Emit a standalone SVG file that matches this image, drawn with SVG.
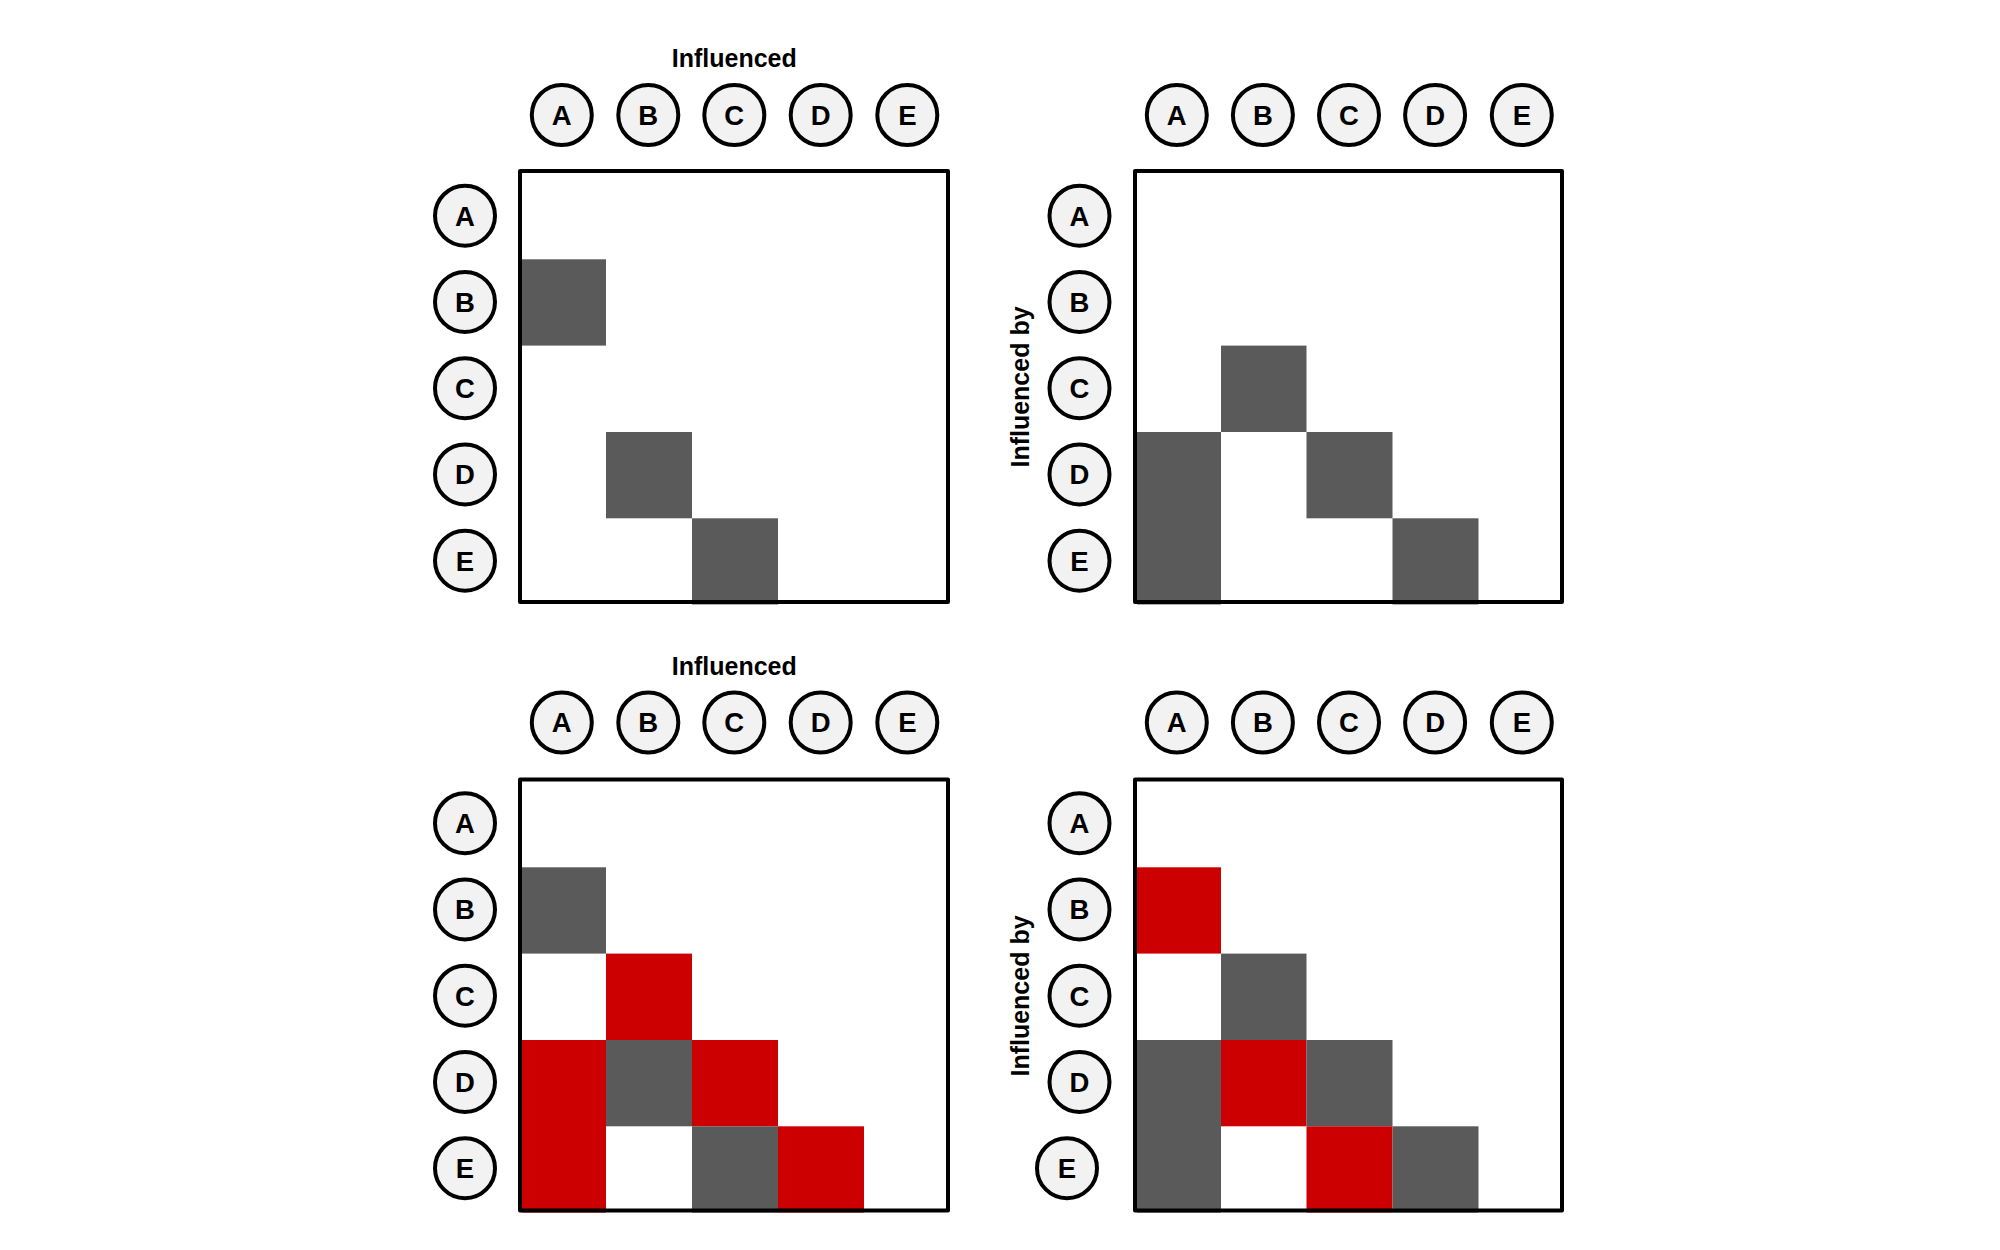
<svg xmlns="http://www.w3.org/2000/svg" width="2000" height="1250" viewBox="0 0 2000 1250">
<style>
.bg{fill:#ffffff}
.node ellipse{fill:#f2f2f2;stroke:#000;stroke-width:4}
.node text{font-family:"Liberation Sans",Arial,sans-serif;font-weight:bold;font-size:27.5px;text-anchor:middle;fill:#000}
.g{fill:#5a5a5a}
.r{fill:#cc0000}
.frame{fill:none;stroke:#000;stroke-width:4;stroke-linejoin:round}
.lbl{font-family:"Liberation Sans",Arial,sans-serif;font-weight:bold;font-size:25px;text-anchor:middle;fill:#000}
</style>
<rect class="bg" x="0" y="0" width="2000" height="1250"/>

<!-- ===== Top-left panel ===== -->
<g id="panel-tl">
  <text class="lbl" x="734.3" y="67">Influenced</text>
  <g id="tl-cells">
    <rect class="g" x="522" y="259.3" width="84" height="86.3"/>
    <rect class="g" x="606" y="432" width="86" height="86.3"/>
    <rect class="g" x="692" y="518.3" width="86" height="86.2"/>
  </g>
  <rect class="frame" x="520" y="171" width="428" height="431"/>
</g>
<g id="tl-col-A" class="node"><ellipse cx="561.8" cy="115" rx="30" ry="30"/><text x="561.8" y="124.9">A</text></g>
<g id="tl-col-B" class="node"><ellipse cx="648.3" cy="115" rx="30" ry="30"/><text x="648.3" y="124.9">B</text></g>
<g id="tl-col-C" class="node"><ellipse cx="734.3" cy="115" rx="30" ry="30"/><text x="734.3" y="124.9">C</text></g>
<g id="tl-col-D" class="node"><ellipse cx="820.7" cy="115" rx="30" ry="30"/><text x="820.7" y="124.9">D</text></g>
<g id="tl-col-E" class="node"><ellipse cx="907.3" cy="115" rx="30" ry="30"/><text x="907.3" y="124.9">E</text></g>
<g id="tl-row-A" class="node"><ellipse cx="465" cy="215.7" rx="30" ry="30"/><text x="465" y="225.6">A</text></g>
<g id="tl-row-B" class="node"><ellipse cx="465" cy="301.9" rx="30" ry="30"/><text x="465" y="311.8">B</text></g>
<g id="tl-row-C" class="node"><ellipse cx="465" cy="388.2" rx="30" ry="30"/><text x="465" y="398.1">C</text></g>
<g id="tl-row-D" class="node"><ellipse cx="465" cy="474.4" rx="30" ry="30"/><text x="465" y="484.3">D</text></g>
<g id="tl-row-E" class="node"><ellipse cx="465" cy="560.7" rx="30" ry="30"/><text x="465" y="570.6">E</text></g>

<!-- ===== Top-right panel ===== -->
<g id="panel-tr">
  <text class="lbl" transform="translate(1028.7,387) rotate(-90)" x="0" y="0">Influenced by</text>
  <g id="tr-cells">
    <rect class="g" x="1221" y="345.6" width="85.5" height="86.4"/>
    <rect class="g" x="1137" y="432" width="84" height="172.5"/>
    <rect class="g" x="1306.5" y="432" width="86" height="86.3"/>
    <rect class="g" x="1392.5" y="518.3" width="86" height="86.2"/>
  </g>
  <rect class="frame" x="1135" y="171" width="427" height="431"/>
</g>
<g id="tr-col-A" class="node"><ellipse cx="1176.8" cy="115" rx="30" ry="30"/><text x="1176.8" y="124.9">A</text></g>
<g id="tr-col-B" class="node"><ellipse cx="1262.9" cy="115" rx="30" ry="30"/><text x="1262.9" y="124.9">B</text></g>
<g id="tr-col-C" class="node"><ellipse cx="1349" cy="115" rx="30" ry="30"/><text x="1349" y="124.9">C</text></g>
<g id="tr-col-D" class="node"><ellipse cx="1435.1" cy="115" rx="30" ry="30"/><text x="1435.1" y="124.9">D</text></g>
<g id="tr-col-E" class="node"><ellipse cx="1521.8" cy="115" rx="30" ry="30"/><text x="1521.8" y="124.9">E</text></g>
<g id="tr-row-A" class="node"><ellipse cx="1079.5" cy="215.7" rx="30" ry="30"/><text x="1079.5" y="225.6">A</text></g>
<g id="tr-row-B" class="node"><ellipse cx="1079.5" cy="301.9" rx="30" ry="30"/><text x="1079.5" y="311.8">B</text></g>
<g id="tr-row-C" class="node"><ellipse cx="1079.5" cy="388.2" rx="30" ry="30"/><text x="1079.5" y="398.1">C</text></g>
<g id="tr-row-D" class="node"><ellipse cx="1079.5" cy="474.4" rx="30" ry="30"/><text x="1079.5" y="484.3">D</text></g>
<g id="tr-row-E" class="node"><ellipse cx="1079.5" cy="560.7" rx="30" ry="30"/><text x="1079.5" y="570.6">E</text></g>

<!-- ===== Bottom-left panel ===== -->
<g id="panel-bl">
  <text class="lbl" x="734.3" y="675">Influenced</text>
  <g id="bl-cells">
    <rect class="g" x="522" y="867.3" width="84" height="86.3"/>
    <rect class="r" x="606" y="953.6" width="86" height="86.4"/>
    <rect class="r" x="522" y="1040" width="84" height="172.5"/>
    <rect class="g" x="606" y="1040" width="86" height="86.3"/>
    <rect class="r" x="692" y="1040" width="86" height="86.3"/>
    <rect class="g" x="692" y="1126.3" width="86" height="86.2"/>
    <rect class="r" x="778" y="1126.3" width="86" height="86.2"/>
  </g>
  <rect class="frame" x="520" y="779.5" width="428" height="431"/>
</g>
<g id="bl-col-A" class="node"><ellipse cx="561.8" cy="722.5" rx="30" ry="30"/><text x="561.8" y="732.4">A</text></g>
<g id="bl-col-B" class="node"><ellipse cx="648.3" cy="722.5" rx="30" ry="30"/><text x="648.3" y="732.4">B</text></g>
<g id="bl-col-C" class="node"><ellipse cx="734.3" cy="722.5" rx="30" ry="30"/><text x="734.3" y="732.4">C</text></g>
<g id="bl-col-D" class="node"><ellipse cx="820.7" cy="722.5" rx="30" ry="30"/><text x="820.7" y="732.4">D</text></g>
<g id="bl-col-E" class="node"><ellipse cx="907.3" cy="722.5" rx="30" ry="30"/><text x="907.3" y="732.4">E</text></g>
<g id="bl-row-A" class="node"><ellipse cx="465" cy="823.2" rx="30" ry="30"/><text x="465" y="833.1">A</text></g>
<g id="bl-row-B" class="node"><ellipse cx="465" cy="909.4" rx="30" ry="30"/><text x="465" y="919.3">B</text></g>
<g id="bl-row-C" class="node"><ellipse cx="465" cy="995.7" rx="30" ry="30"/><text x="465" y="1005.6">C</text></g>
<g id="bl-row-D" class="node"><ellipse cx="465" cy="1081.9" rx="30" ry="30"/><text x="465" y="1091.8">D</text></g>
<g id="bl-row-E" class="node"><ellipse cx="465" cy="1168.2" rx="30" ry="30"/><text x="465" y="1178.1">E</text></g>

<!-- ===== Bottom-right panel ===== -->
<g id="panel-br">
  <text class="lbl" transform="translate(1028.7,996) rotate(-90)" x="0" y="0">Influenced by</text>
  <g id="br-cells">
    <rect class="r" x="1137" y="867.3" width="84" height="86.3"/>
    <rect class="g" x="1221" y="953.6" width="85.5" height="86.4"/>
    <rect class="g" x="1137" y="1040" width="84" height="172.5"/>
    <rect class="r" x="1221" y="1040" width="85.5" height="86.3"/>
    <rect class="g" x="1306.5" y="1040" width="86" height="86.3"/>
    <rect class="r" x="1306.5" y="1126.3" width="86" height="86.2"/>
    <rect class="g" x="1392.5" y="1126.3" width="86" height="86.2"/>
  </g>
  <rect class="frame" x="1135" y="779.5" width="427" height="431"/>
</g>
<g id="br-col-A" class="node"><ellipse cx="1176.8" cy="722.5" rx="30" ry="30"/><text x="1176.8" y="732.4">A</text></g>
<g id="br-col-B" class="node"><ellipse cx="1262.9" cy="722.5" rx="30" ry="30"/><text x="1262.9" y="732.4">B</text></g>
<g id="br-col-C" class="node"><ellipse cx="1349" cy="722.5" rx="30" ry="30"/><text x="1349" y="732.4">C</text></g>
<g id="br-col-D" class="node"><ellipse cx="1435.1" cy="722.5" rx="30" ry="30"/><text x="1435.1" y="732.4">D</text></g>
<g id="br-col-E" class="node"><ellipse cx="1521.8" cy="722.5" rx="30" ry="30"/><text x="1521.8" y="732.4">E</text></g>
<g id="br-row-A" class="node"><ellipse cx="1079.5" cy="823.2" rx="30" ry="30"/><text x="1079.5" y="833.1">A</text></g>
<g id="br-row-B" class="node"><ellipse cx="1079.5" cy="909.4" rx="30" ry="30"/><text x="1079.5" y="919.3">B</text></g>
<g id="br-row-C" class="node"><ellipse cx="1079.5" cy="995.7" rx="30" ry="30"/><text x="1079.5" y="1005.6">C</text></g>
<g id="br-row-D" class="node"><ellipse cx="1079.5" cy="1081.9" rx="30" ry="30"/><text x="1079.5" y="1091.8">D</text></g>
<g id="br-row-E" class="node"><ellipse cx="1067" cy="1168.2" rx="30" ry="30"/><text x="1067" y="1178.1">E</text></g>

<g id="connectors"></g>
</svg>
